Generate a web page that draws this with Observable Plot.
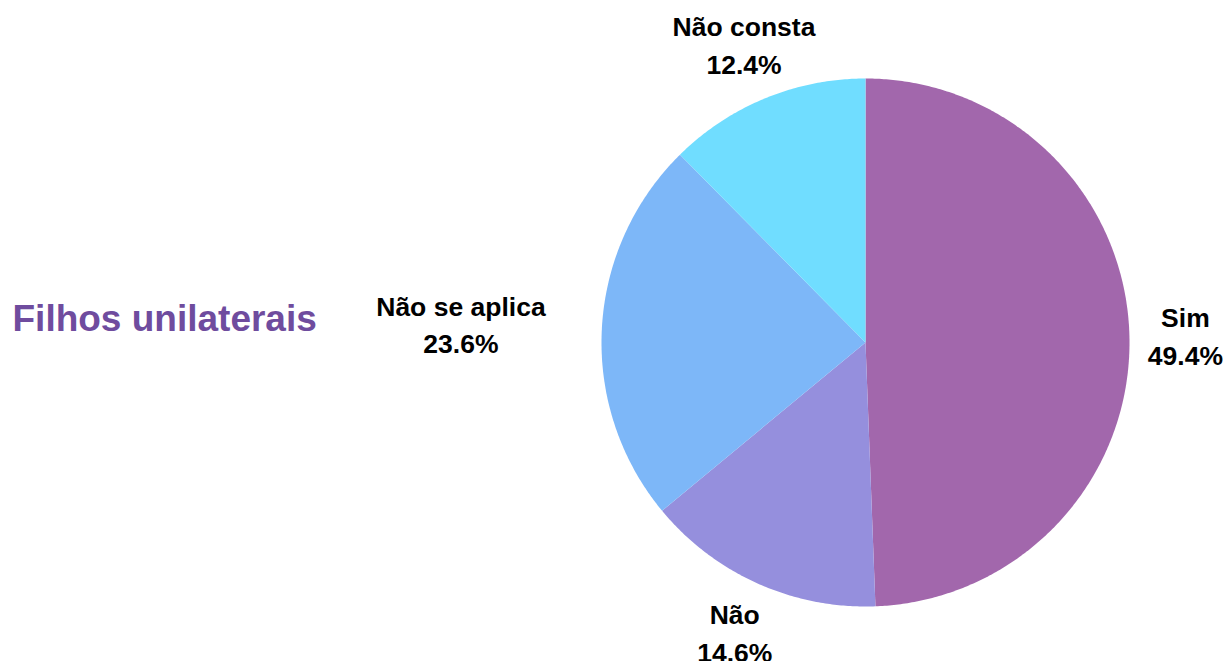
<!DOCTYPE html>
<html>
<head>
<meta charset="utf-8">
<script src="https://cdn.jsdelivr.net/npm/d3@7"></script>
<script src="https://cdn.jsdelivr.net/npm/@observablehq/plot@0.6"></script>
<style>
  html, body { margin: 0; padding: 0; background: #fff; }
  #chart svg { display: block; }
</style>
</head>
<body>
<div id="chart"></div>
<script>
const title = "Filhos unilaterais";
const categories = ["Sim", "Não", "Não se aplica", "Não consta"];
const values = [49.4, 14.6, 23.6, 12.4];
const colors = ["#A267AC", "#958FDD", "#7DB7F8", "#70DDFF"];

const W = 1224, H = 661, R = 264, CX = 865, CY = 342;

const pie = d3.pie().sort(null).value(d => d.value)(
  categories.map((c, i) => ({category: c, value: values[i]}))
);

// slice outlines in unit coordinates (angle clockwise from top)
const outline = [];
for (const s of pie) {
  const c = s.data.category;
  outline.push({category: c, x: 0, y: 0});
  const n = Math.max(2, Math.ceil((s.endAngle - s.startAngle) / (Math.PI / 360)));
  for (let k = 0; k <= n; k++) {
    const a = s.startAngle + (s.endAngle - s.startAngle) * k / n;
    outline.push({category: c, x: Math.sin(a), y: Math.cos(a)});
  }
  outline.push({category: c, x: 0, y: 0});
}

const labelR = 1.212;
const labels = pie.map(s => {
  const a = (s.startAngle + s.endAngle) / 2;
  return {
    category: s.data.category,
    x: labelR * Math.sin(a),
    y: labelR * Math.cos(a),
    text: `${s.data.category}\n${s.data.value.toFixed(1)}%`
  };
});

const textStyle = {
  text: "text", fontSize: 26.5, fontWeight: "bold", fill: "#000",
  lineHeight: 1.43, textAnchor: "middle",
  fontFamily: "Liberation Sans, Arial, sans-serif"
};

const chart = Plot.plot({
  width: W, height: H,
  margin: 0,
  style: {background: "#fff", fontFamily: "Liberation Sans, Arial, sans-serif"},
  x: {domain: [-CX / R, (W - CX) / R], range: [0, W], axis: null},
  y: {domain: [-(H - CY) / R, CY / R], range: [H, 0], axis: null},
  color: {domain: categories, range: colors},
  marks: [
    Plot.line(outline, {x: "x", y: "y", z: "category", fill: "category", stroke: "none", curve: "linear"}),
    Plot.text(labels.filter(d => d.category === "Não" || d.category === "Não consta"),
      {x: "x", y: "y", ...textStyle, dy: -4}),
    Plot.text(labels.filter(d => d.category === "Sim"),
      {x: "x", y: "y", ...textStyle, dy: -3}),
    Plot.text(labels.filter(d => d.category === "Não se aplica"),
      {x: "x", y: "y", ...textStyle, dx: -85, dy: -4}),
    Plot.text([title], {
      text: d => d, frameAnchor: "left", dx: 12, dy: -12, textAnchor: "start",
      fontSize: 37, fontWeight: "bold", fill: "#6F4C9E",
      fontFamily: "Liberation Sans, Arial, sans-serif"
    })
  ]
});
document.getElementById("chart").appendChild(chart);
</script>
</body>
</html>
